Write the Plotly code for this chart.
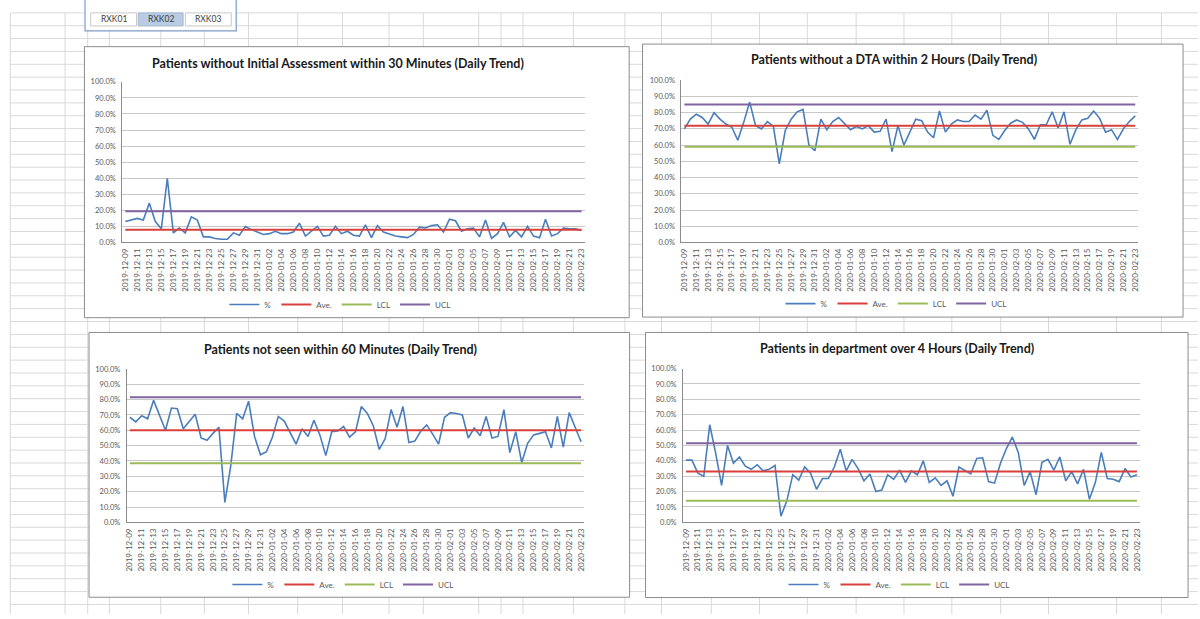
import plotly.graph_objects as go
import pandas as pd

# ---------------- data ----------------
dates = pd.date_range("2019-12-09", "2020-02-23").strftime("%Y-%m-%d").tolist()

ia30_pct = [13, 14, 15, 14, 24.5, 13, 8.5, 40, 6, 9, 6, 16, 14, 3.5, 3.5, 2.5, 2, 2, 6, 4.5,
            10, 8, 6.5, 5, 5.5, 7, 5.5, 5.5, 6.5, 12, 4, 7, 10, 4, 4.5, 10, 5.5, 7, 4.5, 4,
            11, 3, 10.5, 6.5, 5, 4, 3.5, 3, 5, 9.5, 9, 10.5, 11, 6.5, 14.5, 13.5, 7, 8.5, 9, 3.5,
            14, 2.5, 5.5, 12.5, 3.5, 7.5, 3.5, 10, 4, 3, 14.5, 4, 5.5, 9, 8.5, 8.5, 7.5]
ia30_ave, ia30_lcl, ia30_ucl = 8.0, -3.5, 19.5

dta2h_pct = [70, 76, 79, 77, 73, 80, 76, 73, 71, 63, 74, 86.5, 72, 70, 74.5, 71.5, 48.5, 69, 76, 80.5,
             82, 60, 56.5, 76, 69.5, 74.5, 77, 73, 69.5, 71.5, 70, 72, 68, 68.5, 76, 56, 72, 60, 67.5, 76,
             75, 68, 64.5, 81, 68, 73, 75.5, 74.5, 74.5, 78.5, 76, 81.5, 66, 63.5, 69, 73.5, 75.5, 74, 70, 63.5,
             72.5, 72.5, 80.5, 70.5, 80.5, 60.5, 69.5, 75.5, 76.5, 81, 76.5, 68, 69.5, 63.5, 70, 74.5, 78]
dta2h_ave, dta2h_lcl, dta2h_ucl = 72.0, 59.0, 85.0

seen60_pct = [68.5, 65.5, 69.5, 67.5, 79.5, 70, 60, 74.5, 74, 61, 66, 70.5, 55, 53.5, 58, 62, 13, 37, 71, 67.5,
              79, 56, 44, 46, 55.5, 69, 66, 59, 51, 61, 56, 66.5, 57, 43.5, 59, 59.5, 62.5, 55.5, 59, 75.5,
              71, 63, 47.5, 54.5, 73.5, 62, 75.5, 52, 53, 59.5, 63.5, 57.5, 51, 68.5, 71.5, 71, 70, 55, 61.5, 56.5,
              69, 55, 56, 73.5, 45.5, 59, 39, 51.5, 57, 58, 59, 48.5, 69, 49, 71.5, 62, 52.5]
seen60_ave, seen60_lcl, seen60_ucl = 60.0, 38.5, 81.5

over4h_pct = [40.5, 40.5, 32, 30, 63.5, 45, 24, 50, 38.5, 42.5, 36.5, 34.5, 37.5, 33.5, 34.5, 37, 4, 14, 31, 27.5,
              36, 32, 21.5, 28.5, 28.5, 36, 47.5, 33.5, 41, 35, 27, 31.5, 20, 21, 31, 28, 34, 26, 33.5, 31,
              40, 26, 29, 24, 27, 17, 36, 34, 31.5, 41.5, 42, 26.5, 25.5, 38.5, 48, 55.5, 45.5, 24, 33, 18,
              39, 41, 34, 42.5, 27, 33, 25, 34.5, 15, 26, 45.5, 28.5, 28, 26.5, 35, 29.5, 31]
over4h_ave, over4h_lcl, over4h_ucl = 33.0, 14.0, 51.5

titles = [
    "Patients without Initial Assessment within 30 Minutes (Daily Trend)",
    "Patients without a DTA within 2 Hours (Daily Trend)",
    "Patients not seen within 60 Minutes (Daily Trend)",
    "Patients in department over 4 Hours (Daily Trend)",
]
series_names = ["%", "Ave.", "LCL", "UCL"]
tab_labels = ["RXK01", "RXK02", "RXK03"]

datasets = [
    (ia30_pct, ia30_ave, ia30_lcl, ia30_ucl),
    (dta2h_pct, dta2h_ave, dta2h_lcl, dta2h_ucl),
    (seen60_pct, seen60_ave, seen60_lcl, seen60_ucl),
    (over4h_pct, over4h_ave, over4h_lcl, over4h_ucl),
]

# ---------------- layout geometry (pixels) ----------------
W, H = 1200, 619
def fx(x):
    return x / W
def fy(y):
    return 1 - y / H

charts = [
    dict(box=(82.7, 43.3, 629.3, 318.3), plot=(120.7, 79, 584.5, 242), title=(337.5, 60), legend=(339, 305)),
    dict(box=(642.7, 40.7, 1185, 317.7), plot=(681.7, 77.3, 1140, 242), title=(895, 56.7), legend=(897, 304)),
    dict(box=(87.3, 333.3, 629.7, 602.0), plot=(125.3, 370.3, 584, 526), title=(339.7, 350.7), legend=(342, 589)),
    dict(box=(645.7, 333.3, 1190, 602.3), plot=(683.3, 370, 1141.7, 526), title=(898, 349.3), legend=(900, 589)),
]

colors = ["#4a7ebb", "#d9403c", "#9bbb59", "#8064a2"]
widths = [1.6, 2, 2, 2]
FONT = "Lato, Calibri, Arial, sans-serif"

fig = go.Figure()
shapes = []
annotations = []

# spreadsheet background grid
grid_col = "#d9d9d9"
row_y = [9 + 13.05 * k for k in range(47)]
col_x = [8.3, 63.3, 86, 107.7, 159.3, 203, 247.3, 296.7, 341.7, 388.3, 422.7, 478.3, 500.7, 522.7,
         573.3, 625, 661.7, 711.7, 760, 808, 857, 905, 953, 1002, 1050, 1118.3, 1163.3]
for y in row_y:
    shapes.append(dict(type="line", xref="paper", yref="paper", x0=fx(8.3), x1=1, y0=fy(y), y1=fy(y),
                       line=dict(color=grid_col, width=1), layer="below"))
for x in col_x:
    shapes.append(dict(type="line", xref="paper", yref="paper", x0=fx(x), x1=fx(x), y0=fy(9), y1=0,
                       line=dict(color=grid_col, width=1), layer="below"))

# tab button box
shapes.append(dict(type="rect", xref="paper", yref="paper", x0=fx(83.3), x1=fx(235), y0=fy(-6), y1=fy(27.3),
                   fillcolor="white", line=dict(color="#7f9cc8", width=1.2), layer="below"))
btns = [(89, 135), (136.7, 181.7), (184, 230)]
for i, (bx0, bx1) in enumerate(btns):
    fill = "#b8cce4" if i == 1 else "white"
    shapes.append(dict(type="rect", xref="paper", yref="paper", x0=fx(bx0), x1=fx(bx1), y0=fy(9), y1=fy(22.3),
                       fillcolor=fill, line=dict(color="#c8c8c8" if i != 1 else "#a6b8d0", width=1), layer="below"))
    annotations.append(dict(text=tab_labels[i], xref="paper", yref="paper", x=fx((bx0 + bx1) / 2), y=fy(15.7),
                            showarrow=False, xanchor="center", yanchor="middle",
                            font=dict(family=FONT, size=8.5, color="#404040")))

# chart boxes
for c in charts:
    l, t, r, b = c["box"]
    shapes.append(dict(type="rect", xref="paper", yref="paper", x0=fx(l), x1=fx(r), y0=fy(b), y1=fy(t),
                       fillcolor="white", line=dict(color="#8c8c8c", width=1), layer="below"))

tickvals = dates[::2]
for i, (c, ds) in enumerate(zip(charts, datasets)):
    n = i + 1
    xa = "x" if n == 1 else f"x{n}"
    ya = "y" if n == 1 else f"y{n}"
    lg = "legend" if n == 1 else f"legend{n}"
    pct, ave, lcl, ucl = ds
    vals = [
        [v / 100 for v in pct],
        [ave / 100] * len(dates),
        [lcl / 100] * len(dates),
        [ucl / 100] * len(dates),
    ]
    for k in range(4):
        fig.add_trace(go.Scatter(x=dates, y=vals[k], mode="lines", name=series_names[k],
                                 line=dict(color=colors[k], width=widths[k]),
                                 xaxis=xa, yaxis=ya, legend=lg, cliponaxis=True))
    l, t, r, b = c["plot"]
    xkey = "xaxis" if n == 1 else f"xaxis{n}"
    ykey = "yaxis" if n == 1 else f"yaxis{n}"
    fig.update_layout(**{
        xkey: dict(domain=[fx(l), fx(r)], anchor=ya, type="category", range=[-0.5, len(dates) - 0.5],
                   tickmode="array", tickvals=tickvals, ticktext=tickvals, tickangle=-90,
                   tickfont=dict(family=FONT, size=8, color="#595959"), showgrid=False,
                   showline=True, linecolor="#8c8c8c", linewidth=1, ticks="outside", ticklen=2,
                   tickcolor="rgba(0,0,0,0)", zeroline=False, fixedrange=True),
        ykey: dict(domain=[fy(b), fy(t)], anchor=xa, range=[0, 1], dtick=0.1, tickformat=".1%",
                   tickfont=dict(family=FONT, size=7.5, color="#595959"), showgrid=True,
                   gridcolor="#c8c8c8", gridwidth=1, showline=True, linecolor="#8c8c8c", linewidth=1,
                   ticks="outside", ticklen=4, tickcolor="rgba(0,0,0,0)", zeroline=False, fixedrange=True),
        lg: dict(orientation="h", x=fx(c["legend"][0]), y=fy(c["legend"][1]), xanchor="center",
                 yanchor="middle", bgcolor="rgba(0,0,0,0)", font=dict(family=FONT, size=8, color="#595959"),
                 itemwidth=30, tracegroupgap=0),
    })
    annotations.append(dict(text="<b>" + titles[i] + "</b>", xref="paper", yref="paper",
                            x=fx(c["title"][0]), y=fy(c["title"][1]), showarrow=False,
                            xanchor="center", yanchor="middle",
                            font=dict(family=FONT, size=12.5, color="#1a1a1a")))

fig.update_layout(width=W, height=H, margin=dict(l=0, r=0, t=0, b=0),
                  paper_bgcolor="white", plot_bgcolor="rgba(0,0,0,0)",
                  shapes=shapes, annotations=annotations, showlegend=True)

fig.write_html("out.html", config={"displayModeBar": False},
               post_script="document.body.style.margin='0';document.body.style.overflow='hidden';")
